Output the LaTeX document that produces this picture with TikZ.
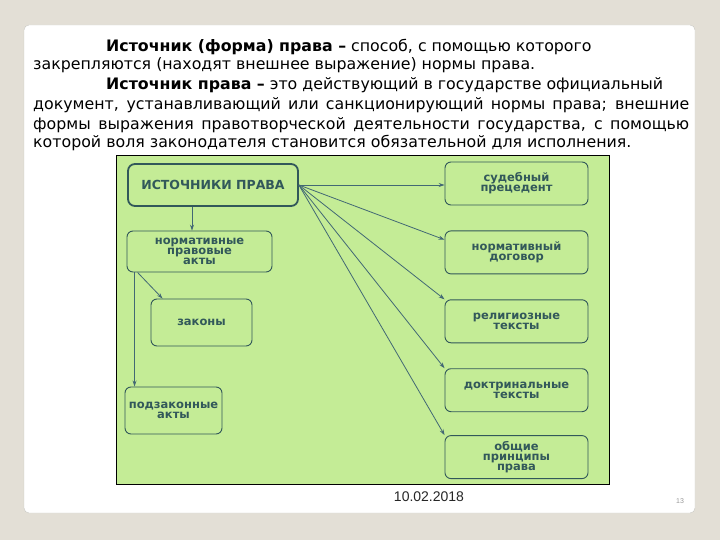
\documentclass[tikz,border=0pt]{standalone}
\usepackage{fontspec}
\setmainfont{Liberation Sans}
\newfontfamily\boxfont{DejaVu Sans}
\newfontfamily\headfont{DejaVu Sans}
\usetikzlibrary{arrows.meta, positioning}
\definecolor{slidebg}{RGB}{227,223,214}
\definecolor{panelgreen}{RGB}{196,236,150}
\definecolor{boxteal}{RGB}{50,88,90}
\definecolor{arrowteal}{RGB}{66,104,116}
\definecolor{framegray}{RGB}{200,200,195}
\begin{document}
\begin{tikzpicture}[x=1pt,y=-1pt,
            b/.style={draw=boxteal, fill=panelgreen, rounded corners=6pt, line width=0.9pt,
                      font=\boxfont\bfseries\fontsize{11.5}{10}\selectfont, text=boxteal,
                      align=center, inner sep=0pt, minimum width=143pt, minimum height=43pt},
            a/.style={-{Stealth[length=6pt,width=4pt]}, arrowteal, line width=0.8pt},
            hl/.style={anchor=base west, inner sep=0pt, font=\headfont\fontsize{15.8}{15.8}\selectfont}
          ]
          % slide
          \fill[slidebg] (0,0) rectangle (720,540);
          \useasboundingbox (0,0) rectangle (720,540);
          \filldraw[draw=framegray, fill=white, rounded corners=5pt] (24,25) rectangle (695,513);
          % heading text
          \node[hl] (t1) at (106,52) {\textbf{Источник (форма) права –} способ, с помощью которого};
          \node[hl] (t2) at (33,70) {закрепляются (находят внешнее выражение) нормы права.};
          \node[hl] (t3) at (106,90) {\textbf{Источник права –} это действующий в государстве официальный};
          \node[hl] (t4) at (33,110) {\makebox[656pt][s]{документ, устанавливающий или санкционирующий нормы права; внешние}};
          \node[hl] (t5) at (33,130) {\makebox[656pt][s]{формы выражения правотворческой деятельности государства, с помощью}};
          \node[hl] (t6) at (33,148) {которой воля законодателя становится обязательной для исполнения.};
          % green panel
          \filldraw[draw=black, fill=panelgreen, line width=0.8pt] (116,155) rectangle (609,484);
          \node[b, line width=1.8pt, rounded corners=7pt, minimum width=170pt, minimum height=42pt,
                font=\boxfont\bfseries\fontsize{12.5}{12.5}\selectfont] (src) at (213,185) {ИСТОЧНИКИ ПРАВА};
          \node[b, minimum width=145pt, minimum height=41pt] (npa) at (199.5,251.5) {нормативные\\правовые\\акты};
          \node[b, minimum width=101pt, minimum height=47pt] (zak) at (201.5,322.5) {законы};
          \node[b, minimum width=97pt, minimum height=47pt] (pza) at (173.5,410.5) {подзаконные\\акты};
          \node[b] (r1) at (516.5,183.5) {судебный\\прецедент};
          \node[b] (r2) [below=25pt of r1] {нормативный\\договор};
          \node[b] (r3) [below=25pt of r2] {религиозные\\тексты};
          \node[b] (r4) [below=25pt of r3] {доктринальные\\тексты};
          \node[b] (r5) [below=23pt of r4] {общие\\принципы\\права};
          \draw[a] (src.east) -- (src.east -| r1.west);
          \draw[a] (src.east) -- (r2.170);
          \foreach \n in {r3,r4,r5}
            \draw[a] (src.east) -- (\n.north west);
          \draw[a] ([xshift=-21pt]src.south) -- ([xshift=-21pt]src.south |- npa.north);
          \draw[a] ([xshift=8pt]npa.south west) -- ([xshift=8pt]npa.south west |- pza.north);
          \draw[a] ([xshift=11pt]npa.south west) -- ([xshift=12pt]zak.north west);
          % footer
          \node[font=\fontsize{14}{14}\selectfont, text=black!85] (date) at (429,497) {10.02.2018};
          \node[font=\fontsize{7}{7}\selectfont, text=black!40] (num) at (680,501) {13};
        \end{tikzpicture}
\end{document}
